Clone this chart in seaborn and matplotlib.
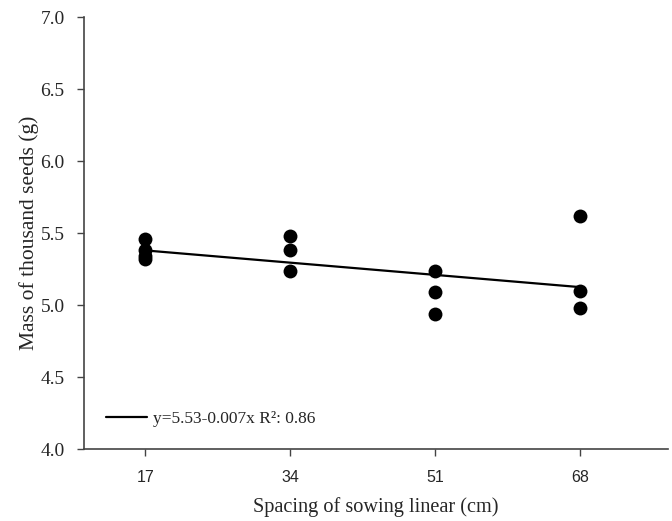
import matplotlib
matplotlib.use("Agg")
import matplotlib.pyplot as plt
import seaborn as sns
import pandas as pd
import numpy as np

# Data
spacing = [17, 17, 17, 17, 34, 34, 34, 51, 51, 51, 68, 68, 68]
mass = [5.46, 5.38, 5.34, 5.32, 5.48, 5.38, 5.24, 5.24, 5.09, 4.94, 5.62, 5.10, 4.98]
fit_x = [17, 68]
fit_y = [5.38, 5.125]
legend_label = "y=5.53-0.007x R²: 0.86"
x_ticks = [17, 34, 51, 68]
y_ticks = [4.0, 4.5, 5.0, 5.5, 6.0, 6.5, 7.0]

sns.set_style("white")
plt.rcParams['font.family'] = ['Liberation Serif', 'DejaVu Serif']

df = pd.DataFrame({"x": spacing, "y": mass})
fit = pd.DataFrame({"x": fit_x, "y": fit_y})

fig = plt.figure(figsize=(6.72, 5.21), dpi=100)
ax = fig.add_axes([0.125, 0.138, 0.869, 0.829])

sns.lineplot(data=fit, x="x", y="y", ax=ax, color="black", linewidth=1.6,
             label=legend_label, zorder=2)
sns.scatterplot(data=df, x="x", y="y", ax=ax, color="black", s=100,
                edgecolor="black", linewidth=0, zorder=3, legend=False)

ax.set_xlim(9.8, 78.3)
ax.set_ylim(4.0, 7.0)
ax.set_xticks(x_ticks)
ax.set_xticklabels([str(t) for t in x_ticks], family=['Liberation Sans'], fontsize=11.5)
ax.set_yticks(y_ticks)
ax.set_yticklabels([f"{t:.1f}" for t in y_ticks], fontsize=14)
ax.tick_params(axis='both', direction='out', length=5, width=1, color='#444444',
               bottom=True, left=True)
ax.tick_params(axis='x', pad=10)
ax.tick_params(axis='y', pad=9)

for s in ['top', 'right']:
    ax.spines[s].set_visible(False)
for s in ['left', 'bottom']:
    ax.spines[s].set_color('#444444')
    ax.spines[s].set_linewidth(1.2)

ax.set_xlabel("Spacing of sowing linear (cm)", fontsize=14.6, labelpad=9)
ax.set_ylabel("Mass of thousand seeds (g)", fontsize=15.5, labelpad=1)

leg = ax.legend(loc='lower left', frameon=False, fontsize=12.5, handlelength=2.4,
                bbox_to_anchor=(0.0, 0.0), borderaxespad=0.85, handletextpad=0.3)

fig.savefig("out.png", dpi=100)
